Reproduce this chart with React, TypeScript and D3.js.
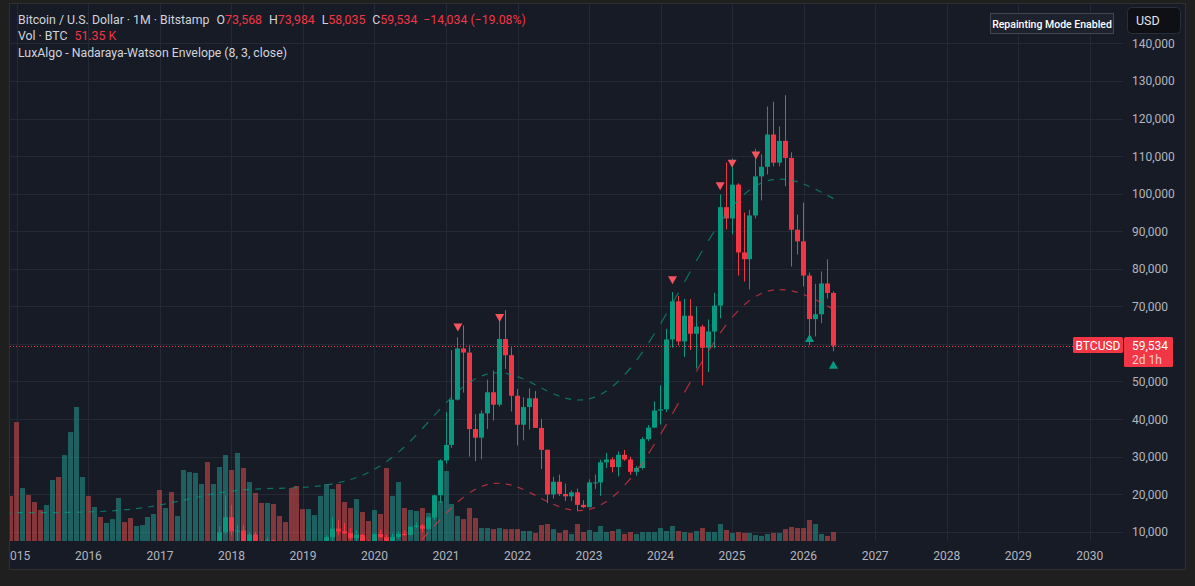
import React, { useEffect, useRef } from 'react';
import * as d3 from 'd3';

// BTCUSD monthly candles (Bitstamp), first bar = Dec 2014, last bar = Jun 2026
const firstYear = 2014;
const firstMonth = 12;

const opens = [
  378,
  320, 217, 254, 244, 236, 230, 263, 284, 230, 236, 314, 377,
  430, 368, 437, 416, 448, 530, 673, 622, 573, 608, 700, 742,
  966, 965, 1190, 1079, 1348, 2300, 2480, 2870, 4700, 4340, 6440, 9838,
  13880, 10110, 10330, 6930, 9240, 7490, 6390, 7730, 7020, 6630, 6320, 4020,
  3740, 3440, 3830, 4100, 5320, 8560, 10820, 10080, 9600, 8300, 9150, 7550,
  7190, 9350, 8540, 6410, 8630, 9450, 9140, 11340, 11650, 10780, 13800, 19700,
  28990, 33110, 45160, 58790, 57700, 37330, 35040, 41500, 47130, 43820, 61310, 57000,
  46200, 38480, 43190, 45530, 37640, 31800, 19930, 23300, 20050, 19420, 20490, 17160,
  16540, 23130, 23140, 28480, 29250, 27210, 30480, 29230, 25950, 26970, 34650, 37720,
  42260, 42580, 61180, 71330, 60660, 67500, 62700, 64600, 58970, 63300, 70200, 96400,
  93400, 102400, 84350, 82550, 94200, 104600, 107150, 115750, 108250, 114050, 109500, 90400,
  87300, 78200, 66600, 67900, 76100, 73568,
];
const highs = [
  383,
  320, 265, 300, 261, 247, 268, 318, 286, 244, 334, 502, 466,
  462, 448, 439, 467, 548, 770, 703, 626, 628, 717, 755, 975,
  1150, 1200, 1290, 1350, 2760, 2980, 2920, 4740, 4980, 6470, 11395, 19666,
  17176, 11790, 11690, 9750, 9990, 7770, 8490, 7760, 7410, 7680, 6600, 4320,
  4110, 4200, 4120, 5630, 9070, 13880, 13150, 12330, 10930, 10480, 9500, 7750,
  9580, 10500, 9190, 9460, 10080, 10400, 11450, 12470, 12060, 14100, 19860, 29300,
  41950, 58350, 61780, 64900, 59600, 41330, 42320, 50500, 52920, 67000, 69000, 59100,
  47990, 45800, 48200, 47450, 40000, 31900, 24650, 25200, 22800, 20980, 21480, 18390,
  23950, 25250, 29190, 31000, 29820, 31400, 31800, 30000, 27480, 35200, 38400, 44700,
  48970, 64000, 73800, 72780, 71960, 71950, 70000, 65100, 66500, 73600, 99800, 108300,
  109350, 102750, 95000, 95700, 111900, 110500, 123200, 124450, 117900, 126200, 111000, 94400,
  97600, 79000, 76000, 79300, 82500, 73984,
];
const lows = [
  310,
  152, 212, 235, 215, 226, 221, 252, 198, 225, 236, 290, 350,
  354, 365, 394, 412, 439, 524, 480, 536, 570, 604, 683, 742,
  752, 946, 890, 1060, 1348, 2120, 1840, 2690, 2970, 4110, 5555, 9380,
  9035, 5970, 6600, 6430, 7030, 5780, 6070, 5880, 6120, 6200, 3560, 3120,
  3350, 3400, 3770, 4070, 5320, 7470, 9090, 9350, 7750, 7310, 6530, 6430,
  6870, 8450, 3850, 6150, 8100, 8900, 8970, 10960, 9880, 10530, 13200, 17600,
  28130, 32300, 44950, 47040, 30000, 28800, 29280, 37330, 39600, 43300, 53370, 42000,
  32950, 34330, 37200, 37700, 26700, 17600, 18800, 19550, 18150, 18150, 15480, 16290,
  16490, 21400, 19560, 26940, 25800, 24750, 28860, 25160, 24900, 26550, 34100, 37600,
  38550, 41880, 59000, 59600, 56500, 58400, 53500, 49000, 52550, 58900, 66800, 90500,
  89200, 78200, 76600, 74500, 93400, 98200, 105100, 107300, 107250, 102000, 80600, 83800,
  75300, 59700, 62000, 65500, 72100, 58035,
];
const closes = [
  320,
  217, 254, 244, 236, 230, 263, 284, 230, 236, 314, 377, 430,
  368, 437, 416, 448, 530, 673, 622, 573, 608, 700, 742, 966,
  965, 1190, 1079, 1348, 2300, 2480, 2870, 4700, 4340, 6440, 9838, 13880,
  10110, 10330, 6930, 9240, 7490, 6390, 7730, 7020, 6630, 6320, 4020, 3740,
  3440, 3830, 4100, 5320, 8560, 10820, 10080, 9600, 8300, 9150, 7550, 7190,
  9350, 8540, 6410, 8630, 9450, 9140, 11340, 11650, 10780, 13800, 19700, 28990,
  33110, 45160, 58790, 57700, 37330, 35040, 41500, 47130, 43820, 61310, 57000, 46200,
  38480, 43190, 45530, 37640, 31800, 19930, 23300, 20050, 19420, 20490, 17160, 16540,
  23130, 23140, 28480, 29250, 27210, 30480, 29230, 25950, 26970, 34650, 37720, 42260,
  42580, 61180, 71330, 60660, 67500, 62700, 64600, 58970, 63300, 70200, 96400, 93400,
  102400, 84350, 82550, 94200, 104600, 107150, 115750, 108250, 114050, 109500, 90400, 87300,
  78200, 66600, 67900, 76100, 73568, 59534,
];
// volume in thousands of BTC
const volumesK = [
  257,
  678, 302, 262, 222, 177, 205, 348, 365, 490, 621, 764, 365,
  257, 194, 137, 103, 125, 245, 108, 131, 86, 91, 137, 154,
  291, 188, 279, 143, 405, 393, 388, 325, 450, 325, 422, 490,
  405, 502, 416, 336, 274, 217, 217, 211, 143, 108, 302, 314,
  182, 182, 148, 257, 325, 296, 325, 222, 188, 239, 165, 114,
  177, 154, 416, 257, 336, 188, 177, 171, 188, 160, 160, 228,
  399, 211, 143, 125, 188, 131, 74, 74, 68, 74, 68, 68,
  68, 57, 57, 46, 91, 97, 68, 46, 63, 40, 97, 51,
  63, 51, 86, 51, 57, 68, 40, 51, 40, 51, 51, 51,
  74, 57, 86, 57, 51, 46, 57, 74, 51, 51, 97, 63,
  46, 51, 46, 46, 34, 29, 40, 46, 46, 68, 80, 74,
  74, 120, 97, 40, 29, 51.35,
];
// closes before the chart window (Sep 2011 .. Nov 2014), used by the envelope
const earlyCloses = [
  5.14, 3.25, 2.97, 4.72,
  5.5, 4.86, 4.9, 4.95, 5.18, 6.69, 9.35, 10.2, 12.4, 11.2, 12.56, 13.51,
  20.4, 33.4, 93, 139, 128.8, 97.5, 106.2, 135.4, 133, 198, 1130, 732,
  830, 549, 453, 447, 628, 639, 586, 478, 387, 338, 378,
];

const yearTicks = [2015, 2016, 2017, 2018, 2019, 2020, 2021, 2022, 2023, 2024, 2025, 2026, 2027, 2028, 2029, 2030];
const priceTicks = [10000, 20000, 30000, 40000, 50000, 60000, 70000, 80000, 90000, 100000, 110000, 120000, 130000, 140000];
const sellSignals = ['2021-03', '2021-10', '2024-03', '2024-11', '2025-01', '2025-05'];
const buySignals = ['2026-02', '2026-06'];

const kernelBandwidth = 8;
const kernelMult = 3;

const UP = '#089981';
const DOWN = '#f23645';
const FONT = 'Roboto, "Noto Sans", sans-serif';

function barOf(year: number, month: number) {
  return (year - firstYear) * 12 + (month - firstMonth);
}
function barOfKey(k: string) {
  const [y, m] = k.split('-').map(Number);
  return barOf(y, m);
}

function App() {
  const ref = useRef<SVGSVGElement>(null);

  useEffect(() => {
    const svg = d3.select(ref.current);
    svg.selectAll('*').remove();

    const paneL = 10, paneR = 1123, paneT = 4, paneB = 541;
    const frameR = 1185, frameB = 569;

    const x = d3.scaleLinear().domain([barOf(2021, 1), barOf(2030, 1)]).range([446, 1089.7]);
    const y = d3.scaleLinear().domain([0, 140000]).range([569.3, 43.4]);
    const vol = d3.scaleLinear().domain([0, d3.max(volumesK) as number]).range([paneB, paneB - 134]);
    const step = x(1) - x(0);
    const bw = Math.round(step * 0.82);

    // background and frame
    svg.append('rect').attr('width', 1195).attr('height', 586).attr('fill', '#1f1f1f');
    svg.append('rect')
      .attr('x', paneL - 0.5).attr('y', paneT - 0.5)
      .attr('width', frameR - paneL + 1).attr('height', frameB - paneT + 1)
      .attr('fill', '#171b26').attr('stroke', '#2f2f2f');

    const defs = svg.append('defs');
    defs.append('clipPath').attr('id', 'pane')
      .append('rect').attr('x', paneL).attr('y', paneT).attr('width', paneR - paneL).attr('height', paneB - paneT);
    defs.append('clipPath').attr('id', 'timeaxis')
      .append('rect').attr('x', paneL).attr('y', paneB).attr('width', paneR - paneL).attr('height', frameB - paneB);

    const pane = svg.append('g').attr('clip-path', 'url(#pane)');

    // grid
    pane.selectAll('line.h').data(priceTicks).enter().append('line')
      .attr('x1', paneL).attr('x2', paneR)
      .attr('y1', (d) => Math.round(y(d)) + 0.5).attr('y2', (d) => Math.round(y(d)) + 0.5)
      .attr('stroke', '#252935');
    pane.selectAll('line.v').data(yearTicks).enter().append('line')
      .attr('x1', (d) => Math.round(x(barOf(d, 1))) + 0.5).attr('x2', (d) => Math.round(x(barOf(d, 1))) + 0.5)
      .attr('y1', paneT).attr('y2', paneB)
      .attr('stroke', '#252935');

    const bars = closes.map((c, i) => ({ i, o: opens[i], h: highs[i], l: lows[i], c, v: volumesK[i] }));

    // volume
    pane.selectAll('rect.vol').data(bars).enter().append('rect')
      .attr('x', (d) => Math.round(x(d.i) - bw / 2))
      .attr('width', bw)
      .attr('y', (d) => vol(d.v))
      .attr('height', (d) => paneB - vol(d.v))
      .attr('fill', (d) => (d.c >= d.o ? 'rgba(38,166,154,0.5)' : 'rgba(239,83,80,0.5)'));

    // candles
    const candle = pane.selectAll('g.candle').data(bars).enter().append('g')
      .attr('fill', (d) => (d.c >= d.o ? UP : DOWN))
      .attr('stroke', (d) => (d.c >= d.o ? UP : DOWN));
    candle.append('line')
      .attr('x1', (d) => Math.round(x(d.i) - bw / 2) + Math.floor(bw / 2) + 0.5)
      .attr('x2', (d) => Math.round(x(d.i) - bw / 2) + Math.floor(bw / 2) + 0.5)
      .attr('y1', (d) => y(d.h)).attr('y2', (d) => y(d.l));
    candle.append('rect')
      .attr('stroke', 'none')
      .attr('x', (d) => Math.round(x(d.i) - bw / 2))
      .attr('width', bw)
      .attr('y', (d) => y(Math.max(d.o, d.c)))
      .attr('height', (d) => Math.max(1, y(Math.min(d.o, d.c)) - y(Math.max(d.o, d.c))));

    // Nadaraya-Watson envelope (repainting mode, computed on the whole history)
    const src = earlyCloses.concat(closes);
    const n = src.length;
    const m = Math.min(499, n - 1);
    const gauss = (v: number) => Math.exp(-(v * v) / (kernelBandwidth * kernelBandwidth * 2));
    const nwe: number[] = [];
    let sae = 0;
    for (let i = 0; i <= m; i++) {
      let s = 0, sw = 0;
      for (let j = 0; j <= m; j++) {
        const w = gauss(i - j);
        s += src[n - 1 - j] * w;
        sw += w;
      }
      const yy = s / sw;
      sae += Math.abs(src[n - 1 - i] - yy);
      nwe.push(yy);
    }
    sae = (sae / m) * kernelMult;
    const offset = earlyCloses.length;
    const segs: { a: number; b: number; ya: number; yb: number }[] = [];
    for (let i = 1; i <= m; i += 2) {
      const b = n - 1 - i + 1 - offset;
      segs.push({ a: b - 1, b, ya: nwe[i], yb: nwe[i - 1] });
    }
    pane.selectAll('line.up').data(segs).enter().append('line')
      .attr('x1', (d) => x(d.a)).attr('x2', (d) => x(d.b))
      .attr('y1', (d) => y(d.ya + sae)).attr('y2', (d) => y(d.yb + sae))
      .attr('stroke', UP).attr('stroke-width', 1.2).attr('opacity', 0.7);
    pane.selectAll('line.dn').data(segs).enter().append('line')
      .attr('x1', (d) => x(d.a)).attr('x2', (d) => x(d.b))
      .attr('y1', (d) => y(d.ya - sae)).attr('y2', (d) => y(d.yb - sae))
      .attr('stroke', DOWN).attr('stroke-width', 1.2).attr('opacity', 0.7);

    // last price line
    const last = closes.length - 1;
    const lastY = Math.round(y(closes[last])) + 0.5;
    pane.append('line')
      .attr('x1', paneL).attr('x2', paneR).attr('y1', lastY).attr('y2', lastY)
      .attr('stroke', DOWN).attr('stroke-dasharray', '1 2');

    // signals
    pane.selectAll('path.sell').data(sellSignals.map(barOfKey)).enter().append('path')
      .attr('d', (d) => {
        const cx = x(d), top = y(closes[d]) - 25;
        return `M${cx - 4.5},${top}L${cx + 4.5},${top}L${cx},${top + 8}Z`;
      })
      .attr('fill', '#f5535e');
    pane.selectAll('path.buy').data(buySignals.map(barOfKey)).enter().append('path')
      .attr('d', (d) => {
        const cx = x(d), bot = y(closes[d]) + 23;
        return `M${cx - 4.5},${bot}L${cx + 4.5},${bot}L${cx},${bot - 8}Z`;
      })
      .attr('fill', UP);

    // price axis labels
    svg.selectAll('text.py').data(priceTicks).enter().append('text')
      .attr('x', 1132).attr('y', (d) => y(d) + 4.5)
      .attr('fill', '#b2b5be').style('font-family', FONT).style('font-size', '12px')
      .text((d) => d3.format(',')(d));

    // time axis labels
    svg.append('g').attr('clip-path', 'url(#timeaxis)')
      .selectAll('text').data(yearTicks).enter().append('text')
      .attr('x', (d) => x(barOf(d, 1))).attr('y', 560)
      .attr('text-anchor', 'middle')
      .attr('fill', '#b2b5be').style('font-family', FONT).style('font-size', '12px')
      .text((d) => d);

    // last price label
    svg.append('rect').attr('x', 1073).attr('y', 337).attr('width', 50).attr('height', 16).attr('rx', 1.5).attr('fill', DOWN);
    svg.append('text').attr('x', 1098).attr('y', 349.5).attr('text-anchor', 'middle')
      .attr('fill', '#ffffff').style('font-family', FONT).style('font-size', '12px').text('BTCUSD');
    svg.append('rect').attr('x', 1124).attr('y', 337).attr('width', 49).attr('height', 30).attr('rx', 1.5).attr('fill', DOWN);
    svg.append('text').attr('x', 1132).attr('y', 349.5)
      .attr('fill', '#ffffff').style('font-family', FONT).style('font-size', '12px')
      .text(d3.format(',')(closes[last]));
    svg.append('text').attr('x', 1132).attr('y', 363.5)
      .attr('fill', 'rgba(255,255,255,0.75)').style('font-family', FONT).style('font-size', '12px')
      .text('2d 1h');

    // legend
    const legend = svg.append('g').style('font-family', FONT).style('font-size', '12.3px').attr('fill', '#d1d4dc');
    const l1 = legend.append('text').attr('x', 18).attr('y', 23.5);
    l1.append('tspan').text('Bitcoin / U.S. Dollar · 1M · Bitstamp');
    const ohlc = [
      ['O', opens[last]], ['H', highs[last]], ['L', lows[last]], ['C', closes[last]],
    ] as [string, number][];
    ohlc.forEach(([k, v]) => {
      l1.append('tspan').attr('dx', 7).text(k);
      l1.append('tspan').attr('fill', DOWN).text(d3.format(',')(v));
    });
    const chg = closes[last] - opens[last];
    l1.append('tspan').attr('dx', 6).attr('fill', DOWN)
      .text(`−${d3.format(',')(Math.abs(chg))} (−${Math.abs((chg / opens[last]) * 100).toFixed(2)}%)`);
    const l2 = legend.append('text').attr('x', 18).attr('y', 40);
    l2.append('tspan').text('Vol · BTC');
    l2.append('tspan').attr('dx', 7).attr('fill', DOWN).text(`${volumesK[last].toFixed(2)} K`);
    legend.append('text').attr('x', 18).attr('y', 57).text('LuxAlgo - Nadaraya-Watson Envelope (8, 3, close)');

    // repainting badge
    svg.append('rect').attr('x', 990.5).attr('y', 13.5).attr('width', 123).attr('height', 20)
      .attr('fill', '#1e222d').attr('stroke', '#434651');
    svg.append('text').attr('x', 1052).attr('y', 27.5).attr('text-anchor', 'middle')
      .attr('fill', '#ffffff').style('font-family', FONT).style('font-size', '10.5px').style('font-weight', 500)
      .text('Repainting Mode Enabled');

    // currency button
    svg.append('rect').attr('x', 1127.5).attr('y', 7.5).attr('width', 53).attr('height', 26).attr('rx', 4)
      .attr('fill', '#0f1015').attr('stroke', '#2a2e39');
    svg.append('text').attr('x', 1136).attr('y', 25)
      .attr('fill', '#e0e3eb').style('font-family', FONT).style('font-size', '12.5px')
      .text('USD');
  }, []);

  return (
    <svg
      ref={ref}
      width={1195}
      height={586}
      style={{ position: 'absolute', left: 0, top: 0, display: 'block' }}
    ></svg>
  );
}

export default App;
